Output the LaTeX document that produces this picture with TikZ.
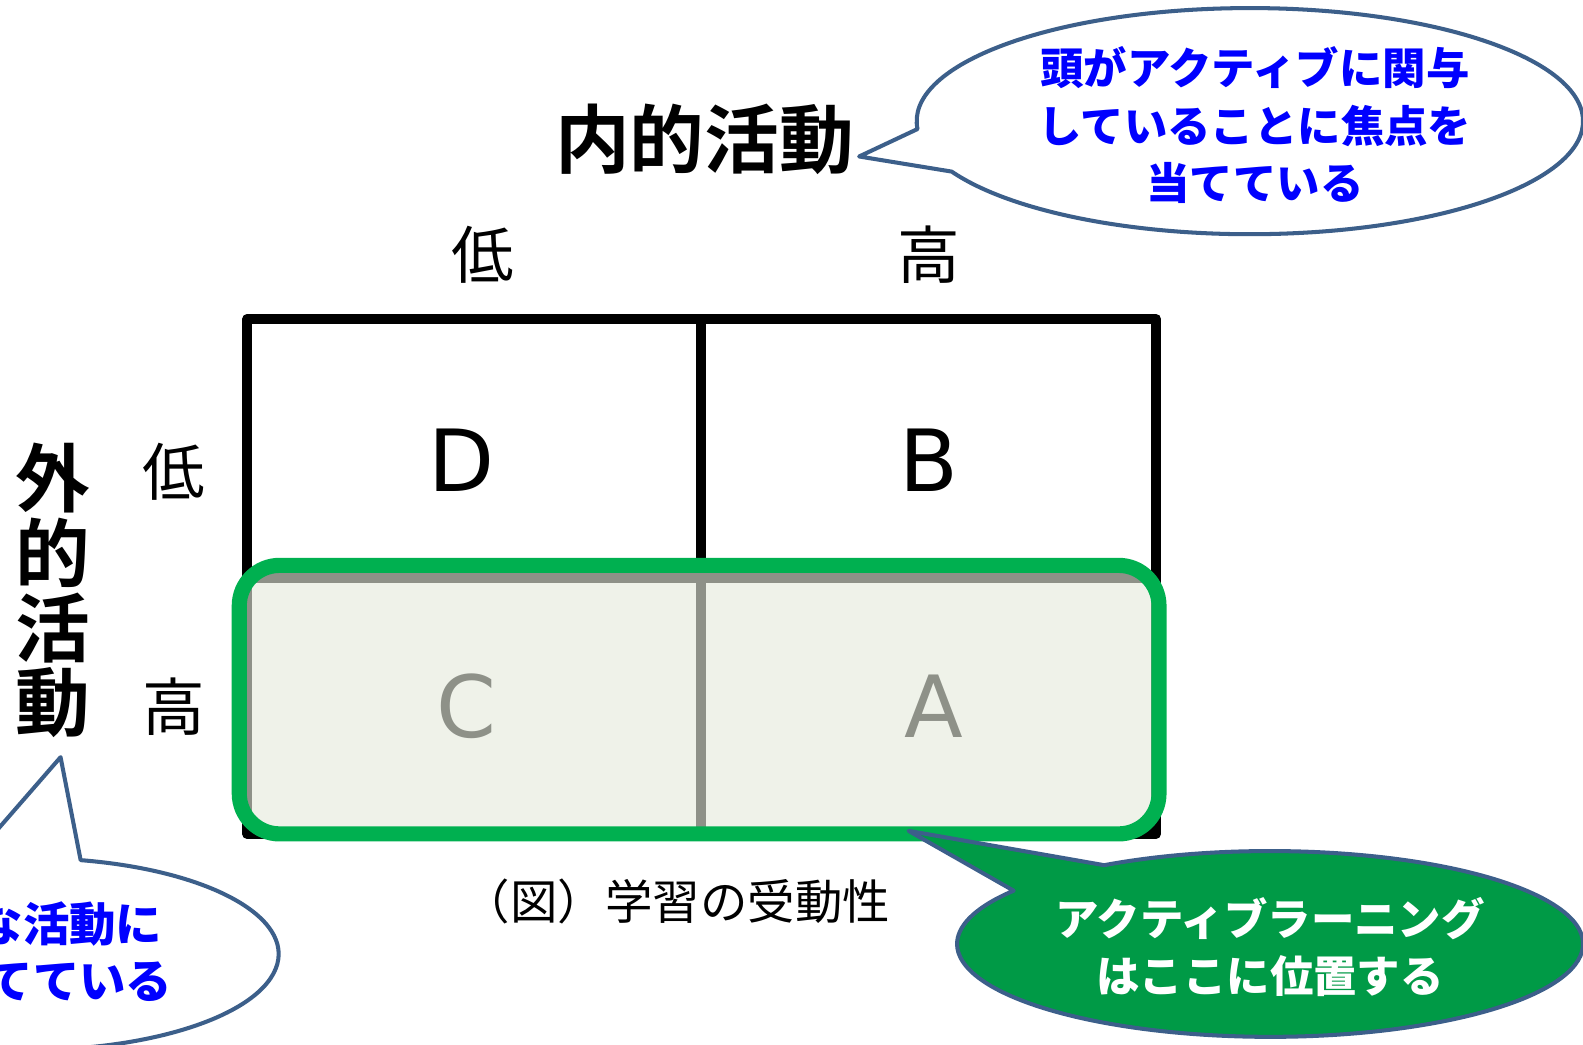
\documentclass[tikz,border=0pt]{standalone}
\usepackage{fontspec}
\newfontfamily\jp{Noto Sans CJK JP}[BoldFont={Noto Sans CJK JP Bold}]
\newfontfamily\jpblack{Noto Sans CJK JP Black}
\newfontfamily\dv{DejaVu Sans}
\usetikzlibrary{calc}
\definecolor{callblue}{RGB}{60,95,138}
\definecolor{txtblue}{RGB}{0,0,255}
\definecolor{boxgreen}{RGB}{0,176,80}
\definecolor{callgreen}{RGB}{0,154,70}
\definecolor{overlaycol}{RGB}{230,235,221}
\newcommand{\fsz}[2]{\fontsize{#1}{#2}\selectfont}
\begin{document}
\begin{tikzpicture}[x=1pt,y=-1pt,
  gridline/.style={line width=10, line join=round},
  axislbl/.style={font=\jp\fsz{62}{62}, inner sep=0},
  title/.style={font=\jp\bfseries\fsz{74}{74}, inner sep=0, align=center},
  letter/.style={font=\dv\fsz{85}{85}, inner sep=0},
  calloutline/.style={draw=callblue, line width=4, line join=round},
  calltext/.style={font=\jpblack\fsz{43}{57}, inner sep=0, align=center}]
\useasboundingbox (0,0) rectangle (1568,1035);
\clip (0,0) rectangle (1568,1035);
\fill[white] (0,0) rectangle (1568,1035);

% grid
\draw[gridline] (245,316) rectangle (1145,826);
\draw[gridline] (694,316) -- (694,826);
\draw[gridline] (245,572) -- (1145,572);

% headings
\node[title] (inner) at (698,138) {内的活動};
\node[title] (outer) at (52,585) {外\\的\\活\\動};
\node[axislbl] (colLow) at (478,252) {低};
\node[axislbl] (colHigh) at (920,252) {高};
\node[axislbl] (rowLow) at (172,467) {低};
\node[axislbl] (rowHigh) at (172,700) {高};

% cells
\node[letter] (D) at (457,456) {D};
\node[letter] (B) at (920,456) {B};
\node[letter] (C) at (462,700) {C};
\node[letter] (A) at (925,700) {A};

% highlighted row
\fill[overlaycol, fill opacity=0.62, rounded corners=40] (237,560) rectangle (1148,826);
\draw[boxgreen, line width=15, rounded corners=40] (237,560) rectangle (1148,826);

% caption
\node[font=\jp\fsz{47}{47}, inner sep=0] (caption) at (670,893) {（図）学習の受動性};

% callout top right
\coordinate (cTR) at (1238,120);
\coordinate (tipTR) at (851,155);
\draw[calloutline, fill=white] (tipTR) -- ($(cTR)+(176:330 and 112)$)
  arc[start angle=176, end angle=513.5, x radius=330, y radius=112] -- cycle;
\node[calltext, text=txtblue] (tTR) at (1243,124) {頭がアクティブに関与\\していることに焦点を\\当てている};

% callout bottom left
\coordinate (cBL) at (30,945);
\coordinate (tipBL) at (60,750);
\draw[calloutline, fill=white] (tipBL) -- ($(cBL)+(281.7:246 and 95)$)
  arc[start angle=281.7, end angle=616, x radius=246, y radius=95] -- cycle;
\node[calltext, text=txtblue, anchor=east, font=\jpblack\fsz{46}{46}] (tBL1) at (161,915) {外的な活動に};
\node[calltext, text=txtblue, anchor=east, font=\jpblack\fsz{46}{46}] (tBL2) at (171,972) {焦点を当てている};

% callout bottom right
\coordinate (cBR) at (1258,935);
\coordinate (tipBR) at (900,823);
\draw[calloutline, fill=callgreen] (tipBR) -- ($(cBR)+(238:310 and 92)$)
  arc[start angle=238, end angle=575, x radius=310, y radius=92] -- cycle;
\node[calltext, text=white] (tBR) at (1258,938) {アクティブラーニング\\はここに位置する};
\end{tikzpicture}
\end{document}
